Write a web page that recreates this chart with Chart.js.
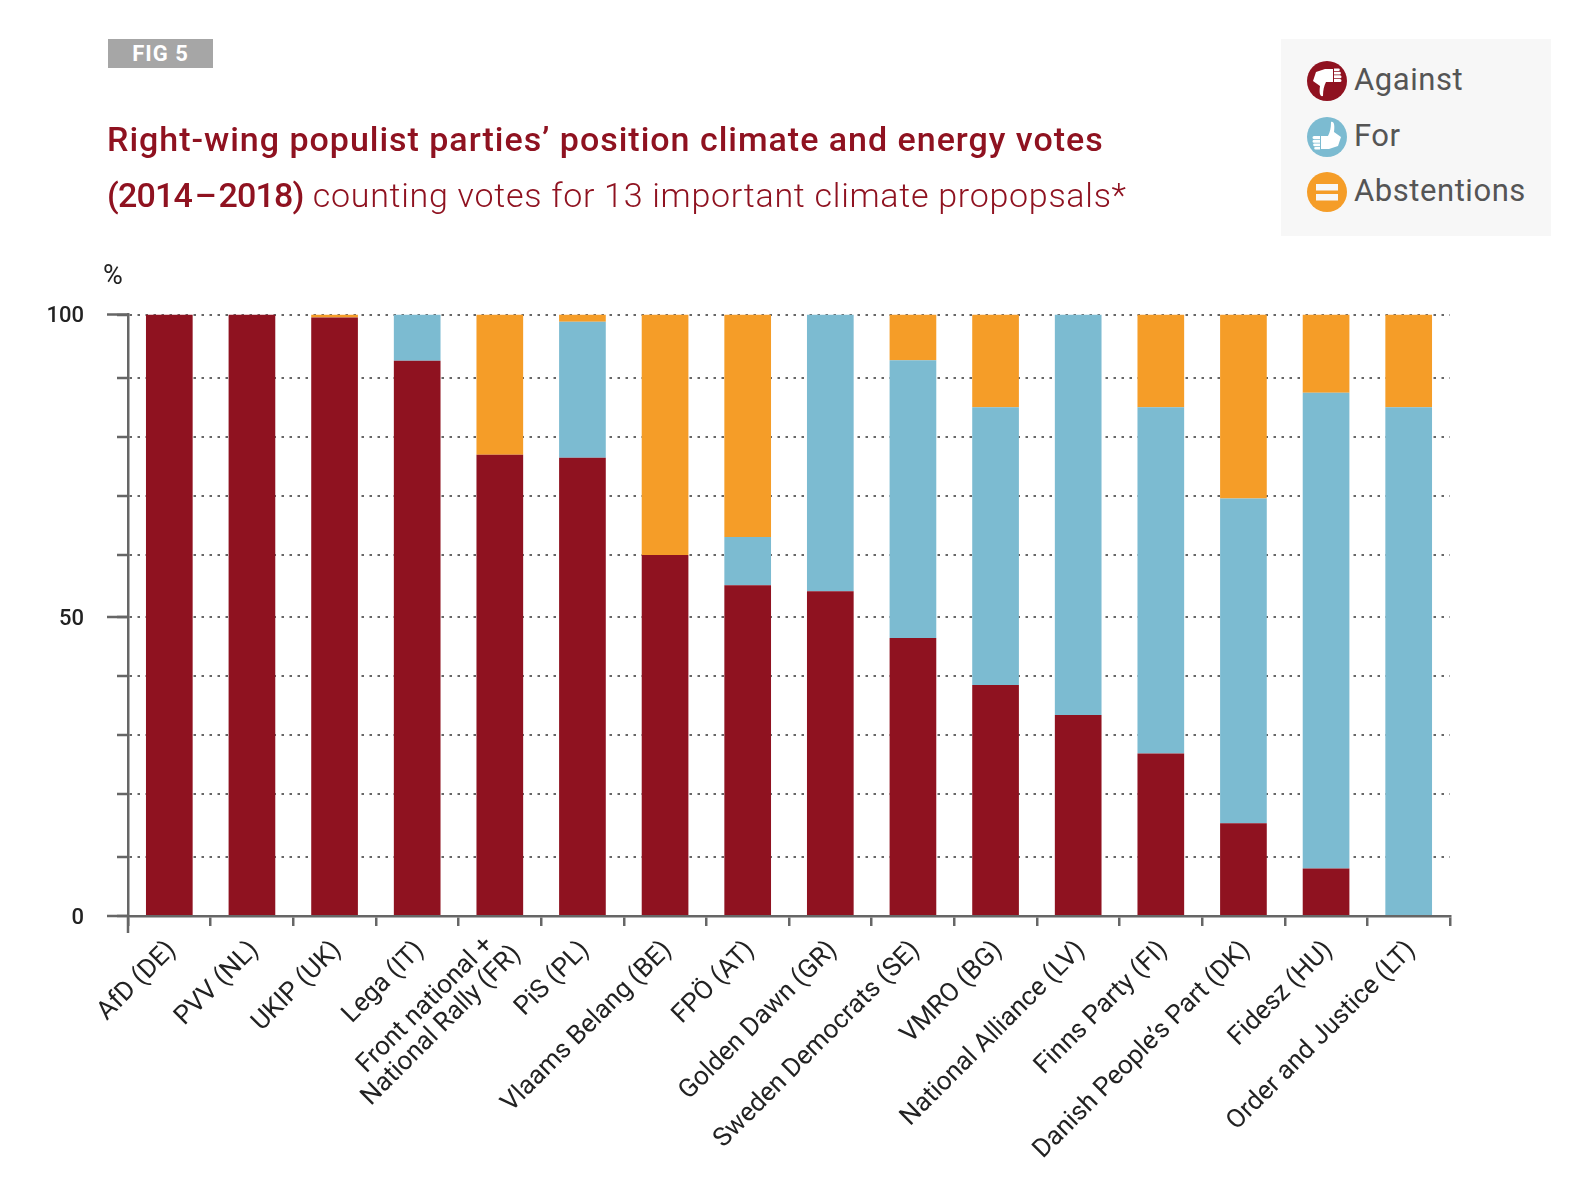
<!DOCTYPE html>
<html>
<head>
<meta charset="utf-8">
<script src="https://cdn.jsdelivr.net/npm/chart.js@4"></script>
<style>
body { margin: 0; background: #fff; font-family: Roboto, sans-serif; }
#wrap { position: relative; width: 1592px; height: 1196px; overflow: hidden; }
#chart { position: absolute; left: 0; top: 0; }
.fig { position: absolute; left: 108px; top: 39px; width: 105px; height: 29px; background: #a6a6a6; color: #fff;
  font-size: 22px; font-weight: 700; line-height: 29px; text-align: center; letter-spacing: 1px; }
.title { position: absolute; left: 107px; color: #8f1220; font-size: 34px; white-space: nowrap; }
.title b { font-weight: 500; }
.title span { font-weight: 300; }
.unit { position: absolute; left: 103px; top: 259px; font-size: 27px; color: #222; }
.legend { position: absolute; left: 1281px; top: 39px; width: 270px; height: 197px; background: #f7f7f7; }
.legend div { position: absolute; left: 73px; font-size: 31px; color: #555; letter-spacing: .55px; line-height: 40px; white-space: nowrap; }
.legend svg { position: absolute; left: 26px; width: 40px; height: 40px; }
</style>
</head>
<body>
<div id="wrap">
  <canvas id="chart" width="1592" height="1196"></canvas>
  <div class="fig">FIG 5</div>
  <div class="title" style="top:119px;letter-spacing:.98px"><b>Right-wing populist parties’ position climate and energy votes</b></div>
  <div class="title" style="top:175px;letter-spacing:.72px"><b style="letter-spacing:-.8px;word-spacing:-5px">(2014 – 2018)</b> <span>counting votes for 13 important climate propopsals*</span></div>
  <div class="unit">%</div>
  <div class="legend" id="legend"></div>
</div>
<script>
const parties = ['AfD (DE)', 'PVV (NL)', 'UKIP (UK)', 'Lega (IT)', ['Front national +  ', 'National Rally (FR)'], 'PiS (PL)',
    'Vlaams Belang (BE)', 'FPÖ (AT)', 'Golden Dawn (GR)', 'Sweden Democrats (SE)', 'VMRO (BG)', 'National Alliance (LV)',
    'Finns Party (FI)', 'Danish People’s Part (DK)', 'Fidesz (HU)', 'Order and Justice (LT)']
const against = [100, 100, 99.5, 92.3, 76.7, 76.2, 60, 55, 54, 46.2, 38.4, 33.4, 27, 15.4, 7.9, 0]
const forVotes = [0, 0, 0, 7.7, 0, 22.6, 0, 8, 46, 46.2, 46.2, 66.6, 57.6, 54, 79.1, 84.6]
const abstentions = [0, 0, 0.5, 0, 23.3, 1.2, 40, 37, 0, 7.6, 15.4, 0, 15.4, 30.6, 13, 15.4]
// the gridlines in the picture are not quite evenly spaced
const yTickValues = [0, 9.8, 20.3, 30.1, 39.9, 49.7, 60, 69.9, 79.7, 89.5, 100]
const yTickLabels = ['0', '', '', '', '', '50', '', '', '', '', '100']
const seriesNames = ['Against', 'For', 'Abstentions']
const seriesColors = ['#8f1220', '#7cbbd1', '#f59d28']
const axisColor = '#666'

// thumb glyph for the legend badges, drawn pointing up
const thumb = '<path fill="#fff" d="M14 19h7c2-4 3-8 3-14 3-1 4 3 3 10l7 5-3 9-9 3h-8z"/>' +
    '<path fill="#fff" d="M7 19h6v3h-6a1.500 1.500 0 0 1 0-3zm0 3.700h6v3h-6a1.500 1.500 0 0 1 0-3zm.500 3.700h5.500v2.800h-5.500a1.400 1.400 0 0 1 0-2.800zm1 3.500h4.500v2.600h-4.500a1.300 1.300 0 0 1 0-2.600z"/>'
const icons = [
    '<circle cx="20" cy="20" r="20" fill="' + seriesColors[0] + '"/><g transform="rotate(180 20 20)">' + thumb + '</g>',
    '<circle cx="20" cy="20" r="20" fill="' + seriesColors[1] + '"/>' + thumb,
    '<circle cx="20" cy="20" r="20" fill="' + seriesColors[2] + '"/><rect x="9" y="12" width="22" height="6.500" fill="#f7f7f7"/><rect x="9" y="22" width="22" height="6.500" fill="#f7f7f7"/>'
]
const legendRows = [22, 77.500, 133]
document.getElementById('legend').innerHTML = seriesNames.map((name, i) =>
    '<svg viewBox="0 0 40 40" style="top:' + legendRows[i] + 'px">' + icons[i] + '</svg>' +
    '<div style="top:' + (legendRows[i] - 1) + 'px">' + name + '</div>').join('')

// long stubs on the labelled y ticks, and the axes running past the corner
const axisStubs = {
    id: 'axisStubs',
    beforeDraw(chart) {
        // the two-line label sits further up-left than the others
        const item = chart.scales.x.getLabelItems()[4]
        const t = item.options.translation
        item.options.translation = [t[0] - 4, t[1] - 14]
    },
    afterDatasetsDraw(chart) {
        const { ctx, scales: { x, y } } = chart
        ctx.save()
        ctx.strokeStyle = axisColor
        ctx.lineWidth = 2.5
        ctx.beginPath()
        yTickValues.forEach((v, i) => {
            if (!yTickLabels[i]) return
            const py = y.getPixelForValue(v)
            ctx.moveTo(107, py)
            ctx.lineTo(x.left, py)
        })
        ctx.moveTo(x.left, y.getPixelForValue(0))
        ctx.lineTo(x.left, y.getPixelForValue(0) + 17)
        ctx.stroke()
        ctx.restore()
    }
}

new Chart(document.getElementById('chart'), {
    type: 'bar',
    data: {
        labels: parties,
        datasets: [
            { label: seriesNames[0], data: against, backgroundColor: seriesColors[0] },
            { label: seriesNames[1], data: forVotes, backgroundColor: seriesColors[1] },
            { label: seriesNames[2], data: abstentions, backgroundColor: seriesColors[2] }
        ]
    },
    options: {
        responsive: false,
        animation: false,
        barPercentage: 0.565,
        categoryPercentage: 1,
        layout: { padding: { top: 314.5, right: 142, left: 0, bottom: 0 } },
        plugins: { legend: { display: false }, tooltip: { enabled: false } },
        scales: {
            x: {
                stacked: true,
                afterFit: scale => { scale.height = 280; scale.paddingLeft = 0; scale.paddingRight = 0 },
                border: { color: axisColor, width: 2.5, z: 1 },
                grid: { drawOnChartArea: false, color: axisColor, lineWidth: 2.5, tickLength: 10 },
                ticks: {
                    autoSkip: false,
                    minRotation: 45,
                    maxRotation: 45,
                    padding: 11,
                    labelOffset: 3,
                    color: '#222',
                    font: { family: 'Roboto', size: 26, lineHeight: 1 }
                }
            },
            y: {
                stacked: true,
                min: 0,
                max: 100,
                afterFit: scale => { scale.width = 128 },
                afterBuildTicks: scale => { scale.ticks = yTickValues.map(value => ({ value })) },
                border: { color: axisColor, width: 2.5, dash: [2.5, 5.5], z: 1 },
                grid: { color: axisColor, lineWidth: 2, tickColor: axisColor, tickWidth: 2.5, tickLength: 11 },
                ticks: {
                    padding: 33,
                    labelOffset: 2,
                    color: '#222',
                    font: { family: 'Roboto', size: 22, weight: 500 },
                    callback: (v, i) => yTickLabels[i]
                }
            }
        }
    },
    plugins: [axisStubs]
});
</script>
</body>
</html>
